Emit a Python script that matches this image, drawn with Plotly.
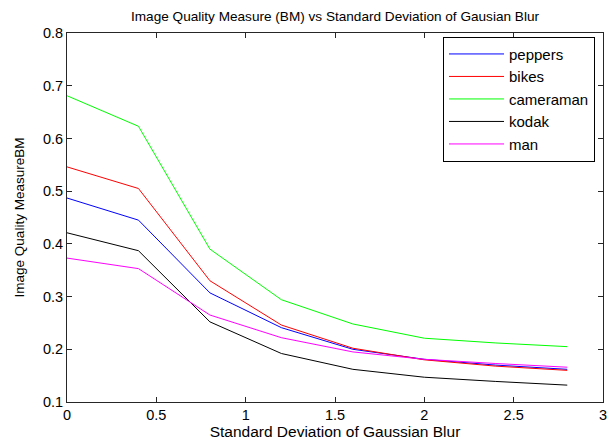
import plotly.graph_objects as go

sigma = [0, 0.4, 0.8, 1.2, 1.6, 2.0, 2.4, 2.8]
peppers = [0.487, 0.445, 0.307, 0.241, 0.200, 0.181, 0.170, 0.162]
bikes = [0.546, 0.505, 0.330, 0.246, 0.202, 0.180, 0.168, 0.160]
cameraman = [0.681, 0.623, 0.390, 0.294, 0.248, 0.221, 0.212, 0.205]
kodak = [0.421, 0.387, 0.252, 0.192, 0.162, 0.147, 0.139, 0.132]
man = [0.373, 0.353, 0.265, 0.222, 0.195, 0.181, 0.173, 0.166]

series = [
    ("peppers", peppers, "#0000ff"),
    ("bikes", bikes, "#ff0000"),
    ("cameraman", cameraman, "#00ff00"),
    ("kodak", kodak, "#000000"),
    ("man", man, "#ff00ff"),
]

fig = go.Figure()
for name, vals, col in series:
    fig.add_trace(go.Scatter(x=sigma, y=vals, mode="lines", name=name,
                             line=dict(color=col, width=1)))

# the page body keeps its default 8px margin, so the figure is 8px smaller
# and its left/top margins are reduced by 8px to keep the reference layout
OFF = 8
font = "Liberation Sans, Arial, sans-serif"
axis_common = dict(
    showline=True, linecolor="#262626", linewidth=1, mirror="allticks",
    ticks="inside", ticklen=5, tickcolor="#262626", showgrid=False,
    zeroline=False, automargin=False,
    tickfont=dict(family=font, size=14.5, color="#000000"),
)
W, H = 615 - OFF, 441 - OFF
fig.update_layout(
    width=W, height=H,
    margin=dict(l=67 - OFF, r=12, t=33 - OFF, b=39),
    paper_bgcolor="white", plot_bgcolor="white",
    hovermode=False,
    title=dict(text="Image Quality Measure (BM) vs Standard Deviation of Gausian Blur",
               x=((67 + 603) / 2 - OFF) / W, xanchor="center",
               y=1 - (16 - OFF) / H, yanchor="middle",
               font=dict(family=font, size=13.6, color="#000000")),
    xaxis=dict(range=[0, 3], tickvals=[0, 0.5, 1, 1.5, 2, 2.5, 3],
               ticktext=["0", "0.5", "1", "1.5", "2", "2.5", "3"],
               title=dict(text="Standard Deviation of Gaussian Blur", standoff=2,
                          font=dict(family=font, size=15.5, color="#000000")),
               **axis_common),
    yaxis=dict(range=[0.1, 0.8], tickvals=[0.1, 0.2, 0.3, 0.4, 0.5, 0.6, 0.7, 0.8],
               ticktext=["0.1", "0.2", "0.3", "0.4", "0.5", "0.6", "0.7", "0.8"],
               title=dict(text="Image Quality MeasureBM", standoff=15,
                          font=dict(family=font, size=13.5, color="#000000")),
               **axis_common),
    legend=dict(x=0.7015, y=0.99, xanchor="left", yanchor="top",
                bgcolor="white", bordercolor="#000000", borderwidth=1,
                font=dict(family=font, size=15, color="#000000"),
                tracegroupgap=0, itemwidth=55),
    showlegend=True,
)
fig.write_html("out.html", config={"displayModeBar": False})
